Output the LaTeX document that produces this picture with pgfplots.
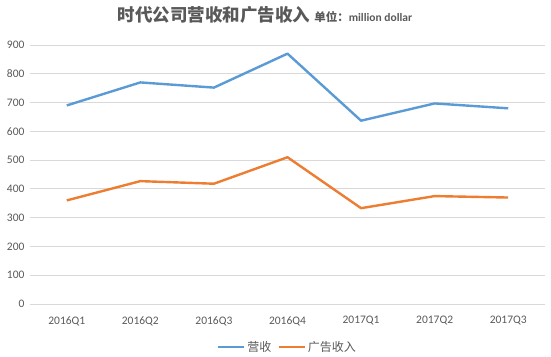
\documentclass[border=0pt]{standalone}
\usepackage{pgfplots}
\pgfplotsset{compat=1.18}
\usepackage{fontspec}
\setmainfont{Carlito}
\newfontfamily\cjk{Noto Sans CJK SC}
\definecolor{rev}{HTML}{5B9BD5}
\definecolor{ad}{HTML}{ED7D31}
\definecolor{gridc}{HTML}{D9D9D9}
\definecolor{txt}{HTML}{595959}
\begin{document}
\begin{tikzpicture}[x=1pt,y=1pt]
\path (0,0) rectangle (551,356);
\node[text=txt, font=\cjk\bfseries\fontsize{17.5}{20}\selectfont, anchor=base] at (265,335) {时代公司营收和广告收入 {\fontsize{11.5}{13}\selectfont 单位：\fontspec{Carlito}\bfseries million dollar}};
\begin{axis}[
  at={(30pt,52pt)}, anchor=south west,
  scale only axis, width=515pt, height=259pt,
  xmin=-0.5, xmax=6.5, ymin=0, ymax=900,
  xtick={0,...,6},
  xticklabels={2016Q1,2016Q2,2016Q3,2016Q4,2017Q1,2017Q2,2017Q3},
  ytick={0,100,...,900},
  ymajorgrids, grid style={gridc, line width=0.8pt},
  axis line style={draw=none},
  major tick length=0pt,
  tick label style={text=txt, font=\fontsize{11.5}{13}\selectfont},
  /pgf/number format/assume math mode=true,
  yticklabel style={anchor=east, xshift=-2pt},
  xticklabel style={anchor=center, yshift=-17pt},
  legend columns=2,
  legend style={at={(0.5,-0.166)}, anchor=center, draw=none, fill=none,
    font=\cjk\fontsize{12}{14}\selectfont, text=txt,
    /tikz/every even column/.append style={column sep=4pt}},
  legend image code/.code={\draw[#1, line width=2.4pt] (0pt,0pt) -- (26pt,0pt);},
]
\addplot[rev, line width=2.4pt, line join=round] coordinates {
(0,690) (1,770) (2,752) (3,870) (4,637) (5,697) (6,680)};
\addlegendentry{营收}
\addplot[ad, line width=2.4pt, line join=round] coordinates {
(0,360) (1,427) (2,418) (3,510) (4,333) (5,375) (6,370)};
\addlegendentry{广告收入}
\end{axis}
\end{tikzpicture}
\end{document}
